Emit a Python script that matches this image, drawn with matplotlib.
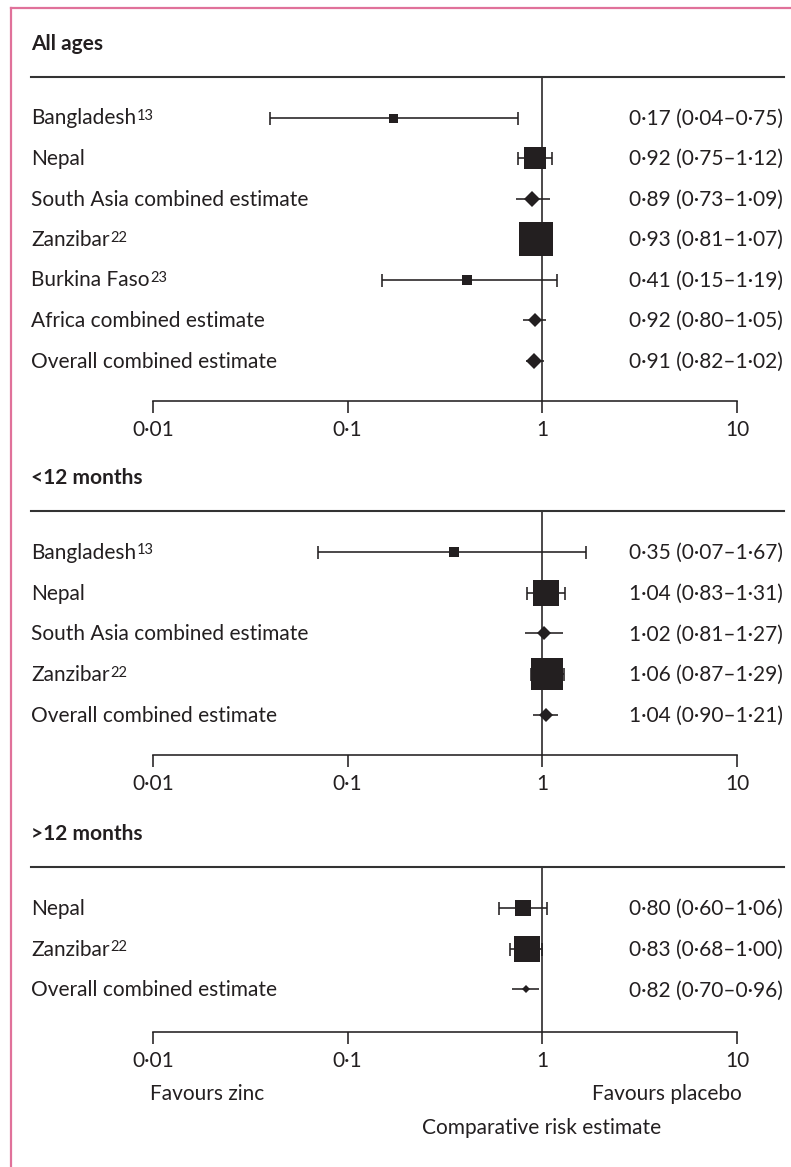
import matplotlib
matplotlib.use("Agg")
import matplotlib.pyplot as plt
from matplotlib.transforms import blended_transform_factory, offset_copy
from matplotlib.lines import Line2D
from matplotlib.ticker import NullLocator

# ---------------- data ----------------
titles = ["All ages", "<12 months", ">12 months"]

labels_all = ["Bangladesh", "Nepal", "South Asia combined estimate",
              "Zanzibar", "Burkina Faso", "Africa combined estimate",
              "Overall combined estimate"]
refs_all = ["13", "", "", "22", "23", "", ""]
est_all = [0.17, 0.92, 0.89, 0.93, 0.41, 0.92, 0.91]
lo_all = [0.04, 0.75, 0.73, 0.81, 0.15, 0.80, 0.82]
hi_all = [0.75, 1.12, 1.09, 1.07, 1.19, 1.05, 1.02]
combined_all = [False, False, True, False, False, True, True]

labels_lt12 = ["Bangladesh", "Nepal", "South Asia combined estimate",
               "Zanzibar", "Overall combined estimate"]
refs_lt12 = ["13", "", "", "22", ""]
est_lt12 = [0.35, 1.04, 1.02, 1.06, 1.04]
lo_lt12 = [0.07, 0.83, 0.81, 0.87, 0.90]
hi_lt12 = [1.67, 1.31, 1.27, 1.29, 1.21]
combined_lt12 = [False, False, True, False, True]

labels_gt12 = ["Nepal", "Zanzibar", "Overall combined estimate"]
refs_gt12 = ["", "22", ""]
est_gt12 = [0.80, 0.83, 0.82]
lo_gt12 = [0.60, 0.68, 0.70]
hi_gt12 = [1.06, 1.00, 0.96]
combined_gt12 = [False, False, True]

tick_values = [0.01, 0.1, 1, 10]
tick_labels = ["0·01", "0·1", "1", "10"]
xlabel = "Comparative risk estimate"
left_note = "Favours zinc"
right_note = "Favours placebo"

# ---------------- style / layout ----------------
W, H = 791, 1167
FONT = "Lato"
FS = 15
FS_SUP = 10.5
INK = "#231f20"
PINK = "#e0719a"
LW = 1.15

plt.rcParams["font.family"] = [FONT, "DejaVu Sans"]

# marker sizes in pixels (square side / diamond width)
msize_all = [9, 22.5, 15, 34, 10, 14, 15]
msize_lt12 = [10, 26, 14, 31.5, 14]
msize_gt12 = [16, 26, 8]

panels = [
    (titles[0], labels_all, refs_all, est_all, lo_all, hi_all, combined_all, msize_all, 77, 401, 40.5),
    (titles[1], labels_lt12, refs_lt12, est_lt12, lo_lt12, hi_lt12, combined_lt12, msize_lt12, 511, 755, 40.8),
    (titles[2], labels_gt12, refs_gt12, est_gt12, lo_gt12, hi_gt12, combined_gt12, msize_gt12, 867, 1032, 40.8),
]

fx = lambda x: x / W
fy = lambda y: 1 - y / H
PT = 0.72  # points per pixel at 100 dpi

fig = plt.figure(figsize=(W / 100, H / 100), dpi=100)

# pink frame lines (top and left)
fig.add_artist(Line2D([fx(10.5), fx(10.5)], [0, fy(7.5)], color=PINK, lw=1.6,
                      transform=fig.transFigure))
fig.add_artist(Line2D([fx(10.5), 1], [fy(7.5), fy(7.5)], color=PINK, lw=1.6,
                      transform=fig.transFigure))


def fmt(v):
    return f"{v:.2f}".replace(".", "·")


for (title, labels, refs, est, lo, hi, comb, msz, rule_px, axis_px, sp) in panels:
    ax = fig.add_axes([fx(153), fy(axis_px), (737 - 153) / W, (axis_px - rule_px) / H])
    ax.set_xscale("log")
    ax.set_xlim(0.01, 10)
    ax.set_ylim((axis_px - rule_px) / sp, 0)
    ax.patch.set_visible(False)
    for s in ["top", "left", "right"]:
        ax.spines[s].set_visible(False)
    ax.spines["bottom"].set_linewidth(LW)
    ax.spines["bottom"].set_color(INK)
    ax.set_xticks(tick_values)
    ax.set_xticklabels(tick_labels)
    ax.xaxis.set_minor_locator(NullLocator())
    ax.tick_params(axis="x", direction="out", length=8.5, width=LW, color=INK,
                   labelsize=FS, labelcolor=INK, pad=5)
    ax.set_yticks([])

    ax.axvline(1, color=INK, lw=LW, zorder=1)

    btrans = blended_transform_factory(fig.transFigure, ax.transData)
    # rule line
    ax.plot([fx(31), fx(784)], [0, 0], color="#333333", lw=1.5, transform=btrans,
            clip_on=False)
    # title
    fig.text(fx(31), fy(rule_px - 33), title, fontsize=FS, fontweight="bold",
             color=INK, va="center", ha="left")

    ttrans = offset_copy(btrans, fig=fig, y=-7 * PT, units="points")
    for i, (lab, ref, e, l, h, c, m) in enumerate(zip(labels, refs, est, lo, hi, comb, msz)):
        y = i + 1
        if c:
            ax.plot([l, h], [y, y], color=INK, lw=LW, zorder=2, solid_capstyle="butt")
            ax.plot([e], [y], marker="D", ms=m / 1.414 * PT, mew=0, color=INK, zorder=3)
        else:
            ax.errorbar([e], [y], xerr=[[e - l], [h - e]], fmt="none", ecolor=INK,
                        elinewidth=LW, capsize=6.5 * PT, capthick=LW, zorder=2)
            ax.plot([e], [y], marker="s", ms=m * PT, mew=0, color=INK, zorder=3)
        base = ax.text(fx(31), y, lab, transform=ttrans, fontsize=FS, color=INK,
                       ha="left", va="baseline")
        if ref:
            ax.annotate(ref, xy=(1, 1), xycoords=base, xytext=(0.6, -0.5),
                        textcoords="offset points", fontsize=FS_SUP, color=INK,
                        ha="left", va="top")
        ax.text(fx(629), y, f"{fmt(e)} ({fmt(l)}–{fmt(h)})", transform=ttrans,
                fontsize=FS, color=INK, ha="left", va="baseline")

fig.text(fx(150), fy(1094), left_note, fontsize=FS, color=INK, ha="left", va="center")
fig.text(fx(742), fy(1094), right_note, fontsize=FS, color=INK, ha="right", va="center")
fig.text(fx(542), fy(1128), xlabel, fontsize=FS, color=INK, ha="center", va="center")

fig.savefig("out.png", dpi=100, facecolor="white")
